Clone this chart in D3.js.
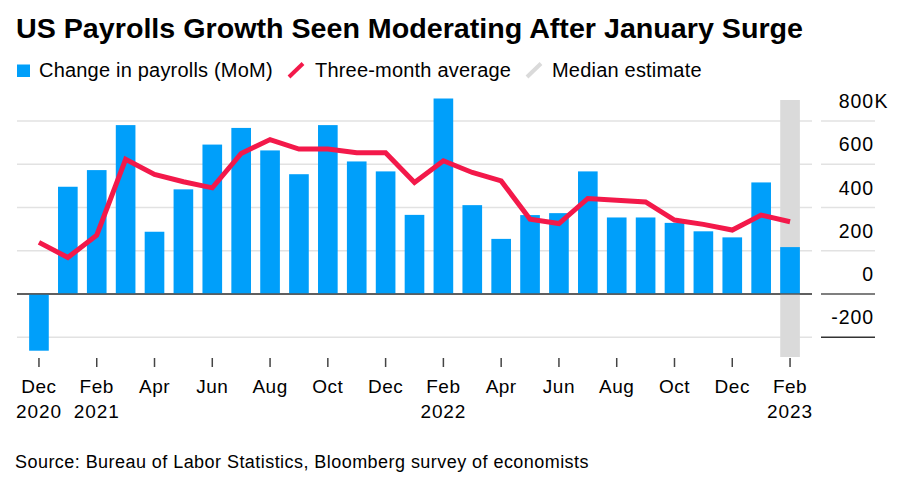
<!DOCTYPE html>
<html>
<head>
<meta charset="utf-8">
<script src="https://cdn.jsdelivr.net/npm/d3@7"></script>
<style>
  body { margin: 0; background: #fff; }
  text { font-family: "Liberation Sans", Arial, Helvetica, sans-serif; fill: #000; }
</style>
</head>
<body>
<svg id="chart" width="899" height="486"></svg>
<script>
/* ---------- data ---------- */
const months = [
  "Dec 2020", "Jan 2021", "Feb 2021", "Mar 2021", "Apr 2021", "May 2021", "Jun 2021",
  "Jul 2021", "Aug 2021", "Sep 2021", "Oct 2021", "Nov 2021", "Dec 2021", "Jan 2022",
  "Feb 2022", "Mar 2022", "Apr 2022", "May 2022", "Jun 2022", "Jul 2022", "Aug 2022",
  "Sep 2022", "Oct 2022", "Nov 2022", "Dec 2022", "Jan 2023", "Feb 2023"
];
// change in payrolls, thousands (Feb 2023 = median estimate)
const payrolls = [
  -262, 496, 573, 781, 288, 484, 691, 768, 664, 554, 781, 613, 567, 366,
  904, 411, 255, 365, 374, 567, 354, 354, 329, 290, 262, 516, 217
];
const threeMonthAvg = [
  239, 169, 272, 623, 553, 519, 491, 650, 714, 670, 670, 653, 653, 516,
  616, 562, 523, 346, 326, 442, 434, 426, 342, 322, 296, 365, 334
];
const estimateMonth = "Feb 2023";

const yTicks = [-200, 0, 200, 400, 600, 800];
const tickMonths = [
  "Dec 2020", "Feb 2021", "Apr 2021", "Jun 2021", "Aug 2021", "Oct 2021", "Dec 2021",
  "Feb 2022", "Apr 2022", "Jun 2022", "Aug 2022", "Oct 2022", "Dec 2022", "Feb 2023"
];
const tickLabels = ["Dec", "Feb", "Apr", "Jun", "Aug", "Oct", "Dec", "Feb", "Apr", "Jun", "Aug", "Oct", "Dec", "Feb"];
const tickYears  = ["2020", "2021", "", "", "", "", "", "2022", "", "", "", "", "", "2023"];

/* ---------- setup ---------- */
const svg = d3.select("#chart");
const BLUE = "#009ffa", RED = "#f3194a", GREY = "#dadada";

const x = d3.scaleBand()
  .domain(months)
  .range([17, 812])
  .paddingInner(0.32)
  .paddingOuter(0.42);

const y = d3.scaleLinear()
  .domain([-200, 800])
  .range([337.3, 121]);

const cx = m => x(m) + x.bandwidth() / 2;

/* ---------- title & legend ---------- */
svg.append("text")
  .attr("x", 16).attr("y", 38)
  .attr("font-size", 28).attr("font-weight", "bold")
  .attr("textLength", 787).attr("lengthAdjust", "spacingAndGlyphs")
  .text("US Payrolls Growth Seen Moderating After January Surge");

const legend = svg.append("g");
legend.append("rect").attr("x", 17).attr("y", 64.5).attr("width", 13).attr("height", 12.5).attr("fill", BLUE);
legend.append("text").attr("x", 39).attr("y", 77).attr("font-size", 20).attr("letter-spacing", 0.2)
  .text("Change in payrolls (MoM)");
legend.append("line").attr("x1", 289).attr("y1", 77).attr("x2", 303).attr("y2", 63.5)
  .attr("stroke", RED).attr("stroke-width", 4);
legend.append("text").attr("x", 315).attr("y", 77).attr("font-size", 20).attr("letter-spacing", 0.2)
  .text("Three-month average");
legend.append("line").attr("x1", 527).attr("y1", 77).attr("x2", 541).attr("y2", 63.5)
  .attr("stroke", GREY).attr("stroke-width", 4);
legend.append("text").attr("x", 552).attr("y", 77).attr("font-size", 20).attr("letter-spacing", 0.2)
  .text("Median estimate");

/* ---------- grid ---------- */
const grid = svg.append("g");
yTicks.forEach(t => {
  grid.append("line")
    .attr("x1", 17).attr("x2", 812)
    .attr("y1", y(t)).attr("y2", y(t))
    .attr("stroke", t === 0 ? "#555" : "#e2e2e2")
    .attr("stroke-width", 1.5);
  grid.append("line")
    .attr("x1", 821).attr("x2", 875)
    .attr("y1", y(t)).attr("y2", y(t))
    .attr("stroke", t === 0 ? "#555" : (t === -200 ? "#333" : "#e2e2e2"))
    .attr("stroke-width", 1.5);
  svg.append("text")
    .attr("x", 874).attr("y", y(t) - 13)
    .attr("text-anchor", "end")
    .attr("font-size", 19.5).attr("letter-spacing", 0.9)
    .text(t);
  if (t === 800) {
    svg.append("text").attr("x", 874.5).attr("y", y(t) - 13).attr("font-size", 19.5).text("K");
  }
});

/* ---------- median estimate band ---------- */
svg.append("rect")
  .attr("x", x(estimateMonth))
  .attr("width", x.bandwidth())
  .attr("y", 100)
  .attr("height", 257)
  .attr("fill", GREY);

/* ---------- bars ---------- */
svg.append("g")
  .selectAll("rect")
  .data(months)
  .join("rect")
  .attr("x", d => x(d))
  .attr("width", x.bandwidth())
  .attr("y", (d, i) => y(Math.max(0, payrolls[i])))
  .attr("height", (d, i) => Math.abs(y(payrolls[i]) - y(0)))
  .attr("fill", BLUE);

// redraw zero line above bars
svg.append("line")
  .attr("x1", 17).attr("x2", 812)
  .attr("y1", y(0)).attr("y2", y(0))
  .attr("stroke", "#555").attr("stroke-width", 1.5);

/* ---------- three-month average line ---------- */
const line = d3.line()
  .x((d, i) => cx(months[i]))
  .y(d => y(d));

svg.append("path")
  .datum(threeMonthAvg)
  .attr("d", line)
  .attr("fill", "none")
  .attr("stroke", RED)
  .attr("stroke-width", 5)
  .attr("stroke-linejoin", "miter");

/* ---------- x axis ---------- */
const xAxis = svg.append("g");
tickMonths.forEach((m, i) => {
  xAxis.append("line")
    .attr("x1", cx(m)).attr("x2", cx(m))
    .attr("y1", 358).attr("y2", 367)
    .attr("stroke", "#444").attr("stroke-width", 1.5);
  xAxis.append("text")
    .attr("x", cx(m)).attr("y", 393)
    .attr("text-anchor", "middle").attr("font-size", 19).attr("letter-spacing", 0.5)
    .text(tickLabels[i]);
  if (tickYears[i]) {
    xAxis.append("text")
      .attr("x", cx(m)).attr("y", 418)
      .attr("text-anchor", "middle").attr("font-size", 19).attr("letter-spacing", 0.9)
      .text(tickYears[i]);
  }
});

/* ---------- source ---------- */
svg.append("text")
  .attr("x", 15).attr("y", 468)
  .attr("font-size", 18).attr("letter-spacing", 0.45)
  .text("Source: Bureau of Labor Statistics, Bloomberg survey of economists");
</script>
</body>
</html>
